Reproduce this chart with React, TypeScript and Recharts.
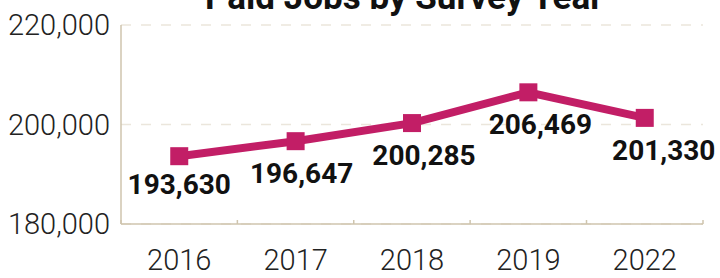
import { LineChart, Line, XAxis, YAxis, CartesianGrid, LabelList } from "recharts";

const years = ["2016", "2017", "2018", "2019", "2022"];
const paidJobs = [193630, 196647, 200285, 206469, 201330];
const yTicks = [180000, 200000, 220000];

const data = years.map((year, i) => ({ year, jobs: paidJobs[i] }));

const MAGENTA = "#c21e66";
const AXIS = "#cfc5ae";
const GRID = "#ebe6dc";
const FONT = "Roboto, 'Noto Sans', sans-serif";
const PLOT_BOTTOM = 224;
const HALF_BAND = 58.25;

// labels in the original sit a little off-centre
const labelDx = [0, 6, 12, 12, 19];
const labelDy = [38, 42, 42, 42, 42];

function YearTick(props: any) {
  const { x, payload, index } = props;
  return (
    <g>
      <line x1={x - HALF_BAND} x2={x - HALF_BAND} y1={PLOT_BOTTOM - 4} y2={PLOT_BOTTOM} stroke={AXIS} strokeWidth={1.5} />
      {index === years.length - 1 && (
        <line x1={x + HALF_BAND} x2={x + HALF_BAND} y1={PLOT_BOTTOM - 4} y2={PLOT_BOTTOM} stroke={AXIS} strokeWidth={1.5} />
      )}
      <text x={x} y={PLOT_BOTTOM + 46} textAnchor="middle" fontSize={29} fontWeight={300} fill="#222" fontFamily={FONT}>
        {payload.value}
      </text>
    </g>
  );
}

function ValueLabel(props: any) {
  const { x, y, value, index } = props;
  return (
    <text
      x={x + labelDx[index]}
      y={y + labelDy[index]}
      textAnchor="middle"
      fontSize={28}
      fontWeight={700}
      fill="#111"
      fontFamily={FONT}
    >
      {Number(value).toLocaleString("en-US")}
    </text>
  );
}

function SquareDot(props: any) {
  const { cx, cy } = props;
  return <rect x={cx - 9} y={cy - 9} width={18} height={18} fill={MAGENTA} />;
}

export default function App() {
  return (
    <div style={{ position: "absolute", left: 0, top: 0, width: 720, height: 278, background: "#fff", overflow: "hidden" }}>
      <div
        style={{
          position: "absolute",
          left: 0,
          width: 808,
          top: -20,
          textAlign: "center",
          fontFamily: FONT,
          fontWeight: 700,
          fontSize: 35,
          lineHeight: "36px",
          color: "#111",
          whiteSpace: "nowrap",
        }}
      >
        Paid Jobs by Survey Year
      </div>
      <LineChart width={720} height={278} data={data} margin={{ top: 25, right: 17, left: 0, bottom: 0 }}>
        <CartesianGrid vertical={false} stroke={GRID} strokeWidth={1.5} strokeDasharray="10 10" />
        <XAxis
          dataKey="year"
          padding={{ left: HALF_BAND, right: HALF_BAND }}
          axisLine={{ stroke: AXIS, strokeWidth: 1.5 }}
          tickLine={false}
          tick={<YearTick />}
          interval={0}
          height={54}
        />
        <YAxis
          domain={[180000, 220000]}
          ticks={yTicks}
          width={121}
          axisLine={{ stroke: AXIS, strokeWidth: 1.5 }}
          tickLine={false}
          tickMargin={5}
          tickFormatter={(v: number) => v.toLocaleString("en-US")}
          tick={{ fontSize: 29, fontWeight: 300, fill: "#222", fontFamily: FONT }}
        />
        <Line
          type="linear"
          dataKey="jobs"
          stroke={MAGENTA}
          strokeWidth={8}
          dot={<SquareDot />}
          activeDot={false}
          isAnimationActive={false}
        >
          <LabelList dataKey="jobs" content={<ValueLabel />} />
        </Line>
      </LineChart>
    </div>
  );
}
